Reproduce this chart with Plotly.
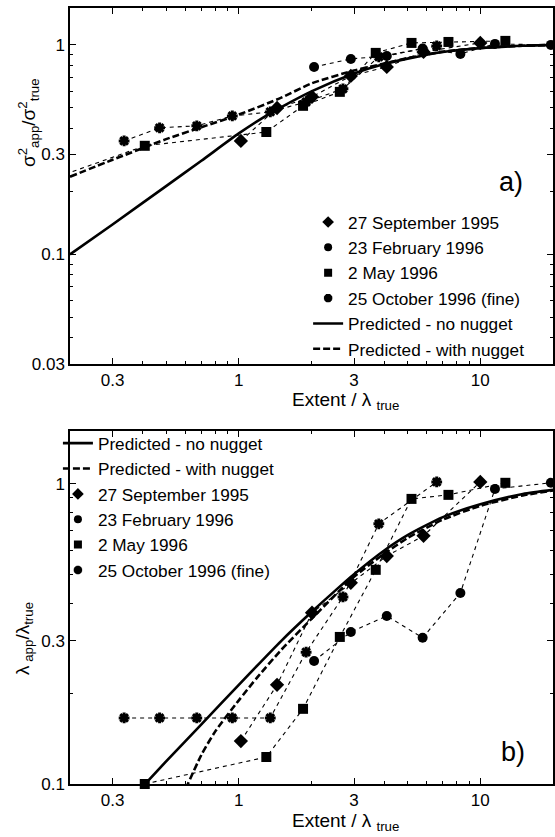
import math
import plotly.graph_objects as go

# ---------------- data ----------------
# Extent / lambda_true of each sampling campaign
x_sep95 = [1.02, 1.44, 2.01, 2.91, 4.10, 5.82, 10.0]
x_feb96 = [2.05, 2.91, 4.10, 5.77, 8.27, 11.5, 19.6]
x_may96 = [0.408, 1.30, 1.845, 2.62, 3.69, 5.19, 7.38, 12.7]
x_oct96 = [0.335, 0.47, 0.67, 0.94, 1.35, 1.9, 2.7, 3.8, 6.6]

# panel a) sigma2_app / sigma2_true
x_may96_a = [0.1] + x_may96
var_sep95 = [0.348, 0.500, 0.565, 0.711, 0.785, 0.926, 1.022]
var_feb96 = [0.785, 0.857, 0.886, 0.960, 0.906, 1.011, 1.000]
var_may96 = [0.185, 0.330, 0.384, 0.512, 0.597, 0.916, 1.022, 1.033, 1.045]
var_oct96 = [0.348, 0.402, 0.411, 0.458, 0.479, 0.534, 0.617, 0.877, 0.989]

pred_a_x = [0.2, 0.3, 0.5, 0.7, 1, 1.3, 1.5, 2, 3, 4, 5, 7, 10, 15, 20]
pred_a_no_nugget = [0.1, 0.139, 0.212, 0.28, 0.378, 0.46, 0.505, 0.60, 0.73, 0.81, 0.86, 0.925, 0.965, 0.99, 1.0]
pred_a_nx = [0.2, 0.3, 0.5, 0.7, 1, 1.5, 2, 3, 4, 5, 7, 10, 15, 20]
pred_a_nugget = [0.235, 0.283, 0.355, 0.405, 0.465, 0.56, 0.655, 0.755, 0.815, 0.865, 0.928, 0.967, 0.99, 1.0]

# panel b) lambda_app / lambda_true
lam_sep95 = [0.139, 0.214, 0.372, 0.468, 0.575, 0.671, 1.015]
lam_feb96 = [0.257, 0.321, 0.363, 0.307, 0.433, 0.962, 1.008]
lam_may96 = [0.1, 0.123, 0.178, 0.309, 0.517, 0.891, 0.919, 1.008]
lam_oct96 = [0.166, 0.166, 0.166, 0.166, 0.166, 0.275, 0.420, 0.736, 1.015]

pred_b_x = [0.4, 0.5, 0.7, 1, 1.5, 2, 2.5, 3, 4, 5, 7, 10, 15, 20]
pred_b_no_nugget = [0.098, 0.119, 0.158, 0.214, 0.300, 0.374, 0.44, 0.50, 0.60, 0.675, 0.775, 0.855, 0.925, 0.955]
pred_b_nx = [0.58, 0.7, 0.8, 1, 1.2, 1.5, 2, 3, 4, 5, 7, 10, 15, 20]
pred_b_nugget = [0.09, 0.125, 0.15, 0.19, 0.228, 0.28, 0.355, 0.49, 0.585, 0.66, 0.76, 0.845, 0.915, 0.95]

names = ["27 September 1995", "23 February 1996", "2 May 1996", "25 October 1996 (fine)"]
symbols = ["diamond", "circle", "square", "asterisk"]
msizes = [11, 10, 10, 9]

x_ticks = [0.3, 1, 3, 10]
x_tick_text = ["0.3", "1", "3", "10"]
ya_ticks = [0.03, 0.1, 0.3, 1]
ya_tick_text = ["0.03", "0.1", "0.3", "1"]
yb_ticks = [0.1, 0.3, 1]
yb_tick_text = ["0.1", "0.3", "1"]

FONT = "Liberation Sans, Arial, Helvetica, sans-serif"

fig = go.Figure()


def marker(i):
    m = dict(symbol=symbols[i], size=msizes[i], color="black")
    if symbols[i] == "asterisk":
        m["line"] = dict(color="black", width=3)
    return m


panels = [
    ("x", "y", "legend",
     [(x_sep95, var_sep95), (x_feb96, var_feb96), (x_may96_a, var_may96), (x_oct96, var_oct96)],
     (pred_a_x, pred_a_no_nugget), (pred_a_nx, pred_a_nugget), [1, 2, 3, 4], [5, 6]),
    ("x2", "y2", "legend2",
     [(x_sep95, lam_sep95), (x_feb96, lam_feb96), (x_may96, lam_may96), (x_oct96, lam_oct96)],
     (pred_b_x, pred_b_no_nugget), (pred_b_nx, pred_b_nugget), [3, 4, 5, 6], [1, 2]),
]

for xa, ya, lg, series, pno, pwn, data_ranks, pred_ranks in panels:
    for i, (xs, ys) in enumerate(series):
        fig.add_trace(go.Scatter(
            x=xs, y=ys, xaxis=xa, yaxis=ya, mode="lines+markers",
            line=dict(color="black", width=1.1, dash="4px,4px"),
            marker=marker(i), showlegend=False,
            cliponaxis=not (ya == "y2" and i == 2)))
        # legend entry (marker only)
        fig.add_trace(go.Scatter(
            x=[None], y=[None], xaxis=xa, yaxis=ya, mode="markers",
            marker=dict(marker(i), size=msizes[i] - 2), name=names[i],
            legend=lg, legendrank=data_ranks[i]))
    fig.add_trace(go.Scatter(
        x=pno[0], y=pno[1], xaxis=xa, yaxis=ya, mode="lines",
        line=dict(color="black", width=2.6, shape="spline", smoothing=0.6),
        name="Predicted - no nugget", legend=lg, legendrank=pred_ranks[0]))
    fig.add_trace(go.Scatter(
        x=pwn[0], y=pwn[1], xaxis=xa, yaxis=ya, mode="lines",
        line=dict(color="black", width=2.6, dash="7px,3px", shape="spline", smoothing=0.6),
        name="Predicted - with nugget", legend=lg, legendrank=pred_ranks[1]))


def minor_vals(lo_dec, hi_dec):
    vals = []
    for d in range(lo_dec, hi_dec + 1):
        for k in range(2, 10):
            vals.append(k * 10 ** d)
    return vals


axis_common = dict(
    type="log", showline=True, linecolor="black", linewidth=1.5, mirror="ticks",
    ticks="inside", ticklen=6, tickwidth=1.2, tickcolor="black",
    showgrid=False, zeroline=False,
    tickfont=dict(family=FONT, size=17, color="black"),
)

xr = [math.log10(0.2), math.log10(20)]
legend_common = dict(xanchor="left", yanchor="top", bgcolor="rgba(0,0,0,0)",
                     itemwidth=30, tracegroupgap=0,
                     font=dict(family=FONT, size=17.2, color="black"))


def ann(text, x, y, size, angle=0):
    return dict(text=text, x=x, y=y, xref="paper", yref="paper", showarrow=False,
                xanchor="center", yanchor="middle", textangle=angle,
                font=dict(family=FONT, size=size, color="black"))


fig.update_layout(
    xaxis=dict(axis_common, domain=[0, 1], anchor="y", range=xr,
               tickvals=x_ticks, ticktext=x_tick_text,
               minor=dict(tickvals=minor_vals(-1, 1), ticks="inside", ticklen=3, tickcolor="black", showgrid=False)),
    yaxis=dict(axis_common, domain=[0.5412, 1], anchor="x",
               range=[math.log10(0.03), math.log10(1.5)],
               tickvals=ya_ticks, ticktext=ya_tick_text,
               minor=dict(tickvals=minor_vals(-2, 0), ticks="inside", ticklen=3, tickcolor="black", showgrid=False)),
    xaxis2=dict(axis_common, domain=[0, 1], anchor="y2", range=xr,
                tickvals=x_ticks, ticktext=x_tick_text,
                minor=dict(tickvals=minor_vals(-1, 1), ticks="inside", ticklen=3, tickcolor="black", showgrid=False)),
    yaxis2=dict(axis_common, domain=[0, 0.4549], anchor="x2",
                range=[math.log10(0.1), math.log10(1.5)],
                tickvals=yb_ticks, ticktext=yb_tick_text,
                minor=dict(tickvals=minor_vals(-1, 0), ticks="inside", ticklen=3, tickcolor="black", showgrid=False)),
    width=555, height=837,
    margin=dict(l=70, r=0, t=8, b=53),
    paper_bgcolor="white", plot_bgcolor="white",
    font=dict(family=FONT, color="black"),
    legend=dict(legend_common, x=0.493, y=0.747),
    legend2=dict(legend_common, x=-0.025, y=0.462),
    annotations=[
        ann("a)", 0.913, 0.776, 27),
        ann("b)", 0.918, 0.041, 27),
        ann("Extent / λ <sub>true</sub>", 0.571, 0.493, 19),
        ann("Extent / λ <sub>true</sub>", 0.571, -0.049, 19),
        ann("σ<sup>2</sup><sub>app</sub>/σ<sup>2</sup><sub>true</sub>", -0.087, 0.853, 19, -90),
        ann("λ<sub> app</sub>/λ<sub>true</sub>", -0.095, 0.187, 19, -90),
    ],
)

fig.write_html("out.html")
